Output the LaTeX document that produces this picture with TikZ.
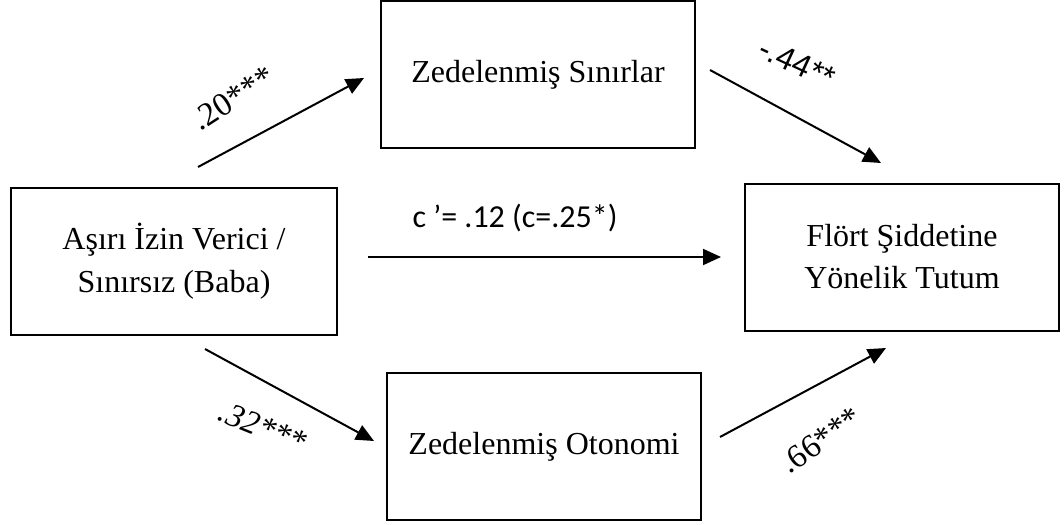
\documentclass[tikz,border=0pt]{standalone}
\usepackage{fontspec}
\setmainfont{Liberation Serif}
\newfontfamily\calfont{Carlito}
\newfontfamily\arialfont{Liberation Sans}
\usetikzlibrary{arrows.meta}
\begin{document}
\begin{tikzpicture}[x=0.5pt,y=-0.5pt,
  box/.style={draw, line width=1pt, minimum width=157pt, minimum height=73.5pt, align=center, inner sep=0pt, outer sep=0pt, font=\fontsize{16}{21}\selectfont},
  conn/.style={line width=1pt, -{Triangle[length=9pt,width=8pt]}},
  coef/.style={font=\fontsize{16.5}{18}\selectfont, inner sep=0pt}]
\useasboundingbox (0,0) rectangle (1064,524);
\node[box, minimum width=163pt, font=\fontsize{16}{21.5}\selectfont] (L) at (174,261) {Aşırı İzin Verici /\\Sınırsız (Baba)};
\node[box] (T) at (538,74.5) {Zedelenmiş Sınırlar};
\node[box] (R) at (902,257) {Flört Şiddetine\\Yönelik Tutum};
\node[box] (B) at (544,446.5) {Zedelenmiş Otonomi};
\coordinate (a1) at (198,167);
\coordinate (a2) at (364,78);
\coordinate (b1) at (710,70);
\coordinate (b2) at (881,163);
\coordinate (c1) at (205,349);
\coordinate (c2) at (374,441);
\coordinate (d1) at (720,437);
\coordinate (d2) at (886,348);
\coordinate (e1) at (368,257);
\coordinate (e2) at (721,257);
\draw[conn] (a1) -- (a2);
\draw[conn] (b1) -- (b2);
\draw[conn] (c1) -- (c2);
\draw[conn] (d1) -- (d2);
\draw[conn] (e1) -- (e2);
\node[coef, rotate=33] (la) at (233,98) {.20***};
\node[coef, rotate=-25, font=\arialfont\fontsize{16}{18}\selectfont] (lb) at (797,63) {-.44**};
\node[coef, rotate=-22, font=\itshape\fontsize{16.5}{18}\selectfont] (lc) at (263,427) {.32***};
\node[coef, rotate=35] (ld) at (821,440) {.66***};
\node[coef, font=\calfont\fontsize{16}{18}\selectfont] (le) at (515,218) {c ’= .12 (c=.25*)};
\end{tikzpicture}
\end{document}
